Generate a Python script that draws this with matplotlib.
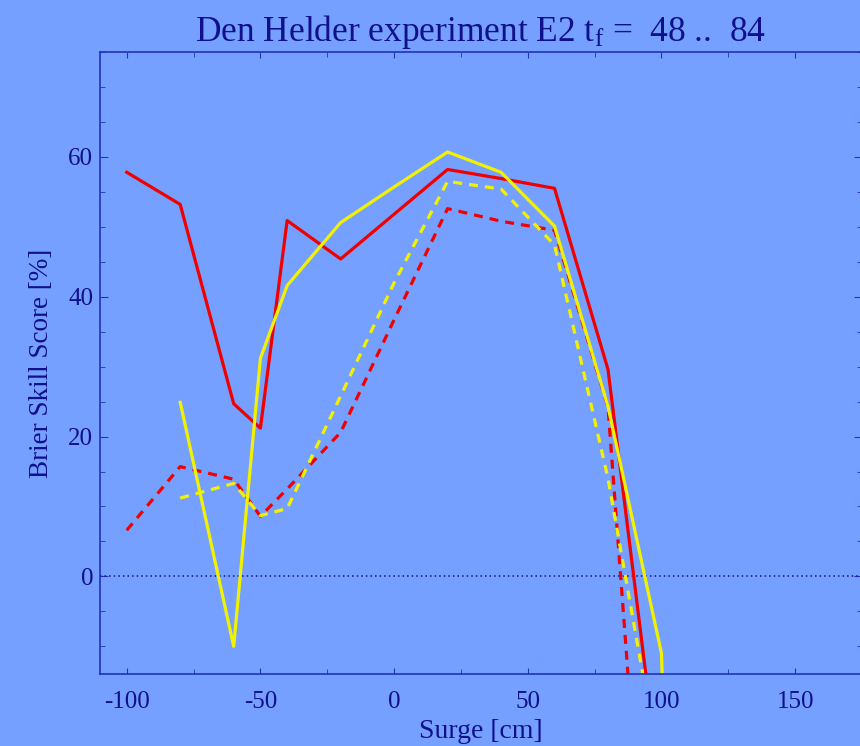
import matplotlib
matplotlib.use('Agg')
import matplotlib.pyplot as plt
from matplotlib.ticker import MultipleLocator

# Brier skill score vs surge level
surge_red = [-100, -80, -60, -50, -40, -20, 0, 20, 40, 60, 80, 100]
bss_red_solid = [57.8, 53.2, 24.7, 21.2, 50.9, 45.4, 51.8, 58.2, 56.9, 55.5, 29.6, -32.0]
bss_red_dash = [6.6, 15.7, 13.9, 8.6, 12.5, 20.6, 36.7, 52.6, 50.8, 49.5, 24.2, -78.0]

surge_yel = [-80, -60, -50, -40, -20, 0, 20, 40, 60, 80, 100, 120]
bss_yel_solid = [24.9, -10.0, 31.2, 41.6, 50.6, 55.7, 60.7, 57.8, 50.1, 24.3, -11.0, -250.0]
bss_yel_dash = [11.2, 13.3, 8.7, 9.7, 25.8, 42.0, 56.5, 55.4, 47.4, 14.0, -29.0, -120.0]

bg = '#76A0FF'
txt = '#10108C'
spine = '#2233B8'

plt.rcParams['font.family'] = 'Liberation Serif'
plt.rcParams['mathtext.fontset'] = 'custom'
plt.rcParams['mathtext.rm'] = 'Liberation Serif'
plt.rcParams['mathtext.it'] = 'Liberation Serif:italic'
plt.rcParams['axes.unicode_minus'] = False

fig = plt.figure(figsize=(8.6, 7.46), dpi=100, facecolor=bg)
ax = fig.add_axes([100 / 860, (746 - 674.3) / 746, 762 / 860, (674.3 - 52) / 746])
ax.set_facecolor(bg)

ax.axhline(0, color='#101090', lw=1.1, ls=(0, (1, 2)))

ax.plot(surge_red, bss_red_solid, color='#F00000', lw=2.3)
ax.plot(surge_red, bss_red_dash, color='#F00000', lw=2.3, ls=(0, (2.8, 2.2)))
ax.plot(surge_yel, bss_yel_solid, color='#F2F200', lw=2.3)
ax.plot(surge_yel, bss_yel_dash, color='#F2F200', lw=2.3, ls=(0, (2.8, 2.2)))

ax.set_xlim(-110, 175)
ax.set_ylim(-14, 75)
ax.xaxis.set_major_locator(MultipleLocator(50))
ax.xaxis.set_minor_locator(MultipleLocator(25))
ax.yaxis.set_major_locator(MultipleLocator(20))
ax.yaxis.set_minor_locator(MultipleLocator(5))

for s in ax.spines.values():
    s.set_color(spine)
    s.set_linewidth(1.2)

ax.tick_params(axis='both', which='both', direction='in', top=True, right=True,
               colors=spine, labelcolor=txt, labelsize=18)
ax.tick_params(axis='x', which='major', length=4.5, pad=12)
ax.tick_params(axis='x', which='minor', length=3.5)
ax.tick_params(axis='y', which='major', length=6, pad=5)
ax.tick_params(axis='y', which='minor', length=3.5)

ax.set_xlabel('Surge [cm]', color=txt, fontsize=20, labelpad=4)
ax.set_ylabel('Brier Skill Score [%]', color=txt, fontsize=19.5, labelpad=10)
ax.set_title(r'Den Helder experiment E2 t$_{\mathrm{f}}$ =  48 ..  84',
             color=txt, fontsize=25.5, pad=8)

plt.savefig('out.png', dpi=100, facecolor=bg)
plt.close()
